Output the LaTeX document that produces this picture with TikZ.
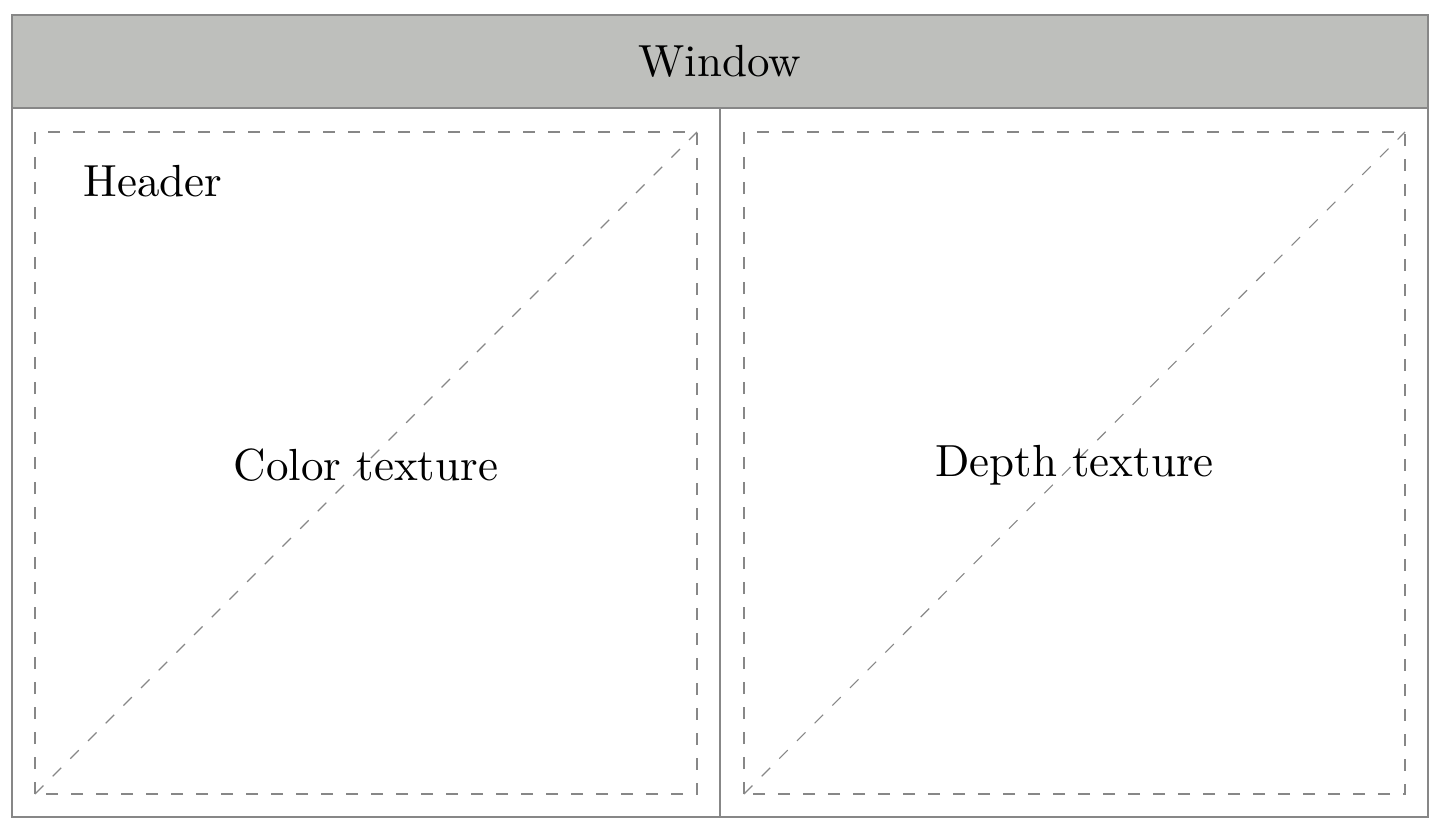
\documentclass[tikz,border=0pt]{standalone}
\font\lmbig="[lmroman10-regular.otf]" at 22.5pt
\begin{document}
\begin{tikzpicture}[x=0.5pt,y=-0.5pt,
  frame/.style={draw=black!47,line width=0.8pt},
  dashbox/.style={draw=black!47,line width=0.55pt,dash pattern=on 6pt off 6.5pt},
  lbl/.style={font=\lmbig,inner sep=0pt}]
\useasboundingbox (0,0) rectangle (1440,830);
% header band
\filldraw[frame,fill={rgb,255:red,190;green,191;blue,188}] (12,15) rectangle (1428,108);
\node[lbl] (window) at (720,61.5) {Window};
% body
\draw[frame] (12,108) rectangle (1428,817);
\coordinate (divtop) at (720,108);
\coordinate (divbot) at (720,817);
\draw[frame] (divtop) -- (divbot);
% left dashed box
\coordinate (lbl1) at (35,794);
\coordinate (ltr) at (697,132);
\draw[dashbox] (lbl1) rectangle (ltr);
\draw[dashbox] (lbl1) -- (ltr);
% right dashed box
\coordinate (rbl) at (744,794);
\coordinate (rtr) at (1405,132);
\draw[dashbox] (rbl) rectangle (rtr);
\draw[dashbox] (rbl) -- (rtr);
% labels
\node[lbl,anchor=base west] (header) at (83,196) {Header};
\node[lbl] (color) at (366,465) {Color texture};
\node[lbl] (depth) at (1074.5,465) {Depth texture};
\end{tikzpicture}
\end{document}
